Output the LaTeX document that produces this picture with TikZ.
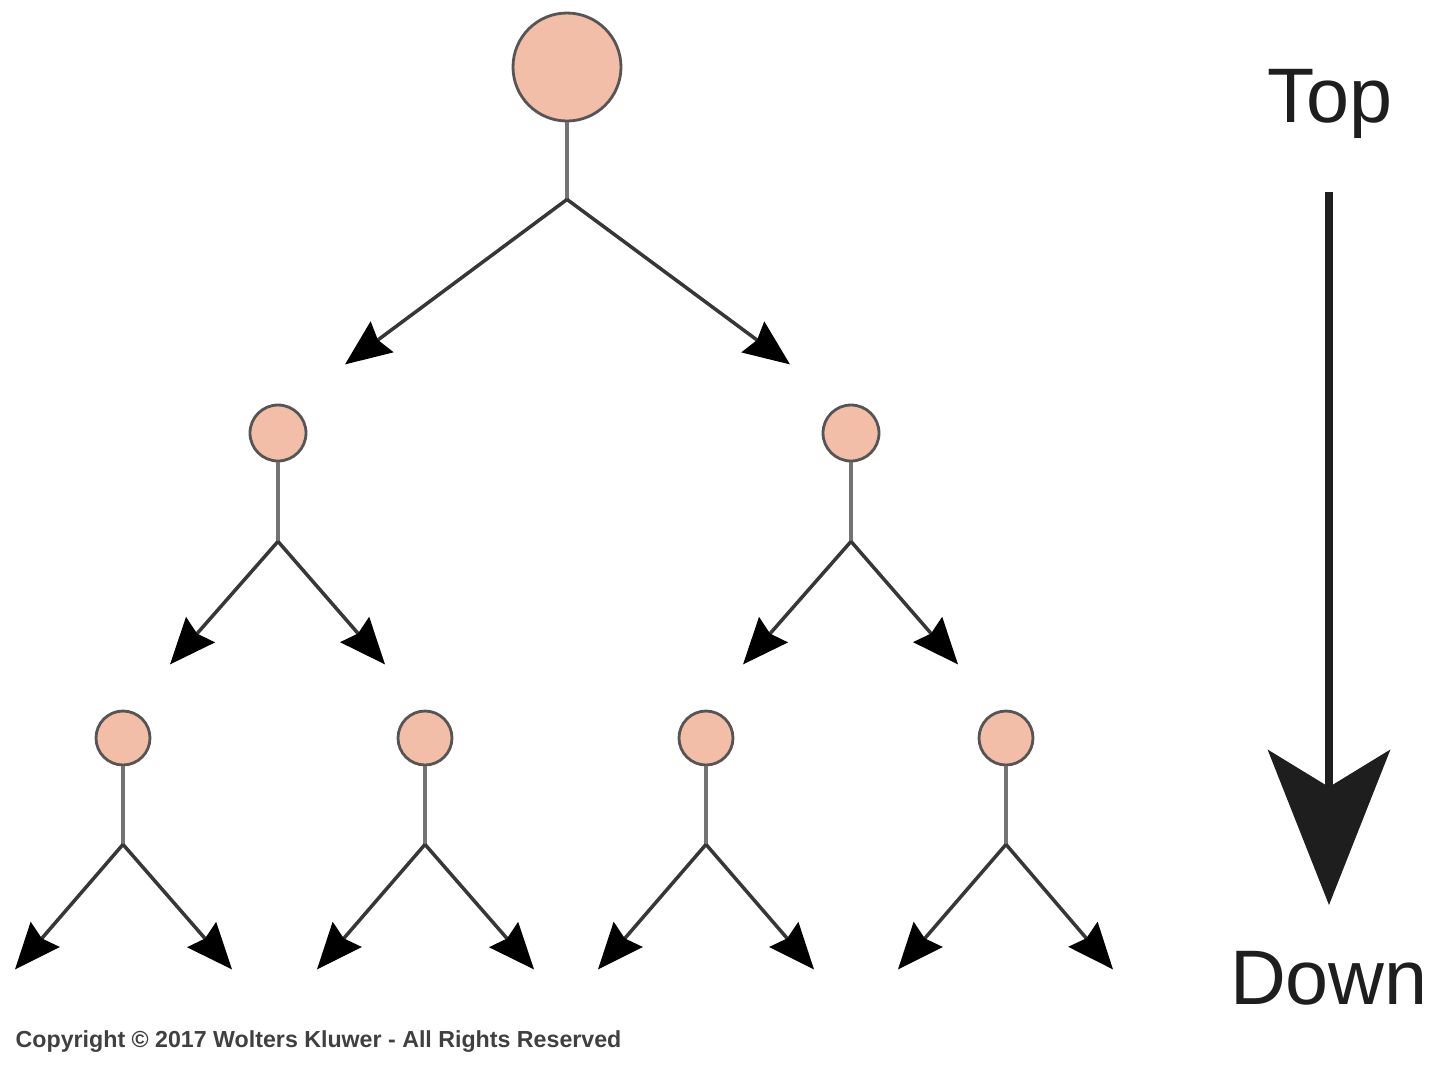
\documentclass[tikz,border=0pt]{standalone}
\usepackage{fontspec}
\setmainfont{Liberation Sans}
\usetikzlibrary{
  arrows.meta,
  positioning
}
\definecolor{nodesalmon}{RGB}{242,190,168}
\definecolor{nodeedge}{RGB}{85,85,85}
\definecolor{stemgray}{RGB}{115,115,115}
\definecolor{branchgray}{RGB}{55,55,55}
\definecolor{labelblack}{RGB}{30,30,30}

\begin{document}
\begin{tikzpicture}[
  rootcirc/.style={circle, draw=nodeedge, fill=nodesalmon, line width=0.8pt,
        minimum size=1.08cm, inner sep=0pt},
  midcirc/.style={rootcirc, minimum size=0.56cm},
  leafcirc/.style={rootcirc, minimum size=0.54cm},
  stem/.style={draw=stemgray, line width=0.9pt},
  branch/.style={draw=branchgray, line width=1pt,
        -{Stealth[length=0.46cm, width=0.38cm, inset=0.05cm, color=black]}},
  bigarrow/.style={draw=labelblack, line width=0.08cm,
        -{Stealth[length=1.55cm, width=1.22cm, inset=0.37cm]}},
  sidelabel/.style={font=\fontsize{22}{26}\selectfont, text=labelblack,
        anchor=base, inner sep=0pt}
]
  \useasboundingbox (0,0) rectangle (14.4,-10.67);
  % Root
  \node[rootcirc] (root) at (5.67,-0.67) {};
  \coordinate[below=0.77cm of root] (rootfork);
  \coordinate[below left=1.65cm and 2.22cm of rootfork] (rootL);
  \coordinate[below right=1.65cm and 2.23cm of rootfork] (rootR);
  \draw[stem] (root) -- (rootfork);
  \draw[branch] (rootfork) -- (rootL);
  \draw[branch] (rootfork) -- (rootR);
  % Second level
  \node[midcirc] (midL) at (2.78,-4.33) {};
  \node[midcirc] (midR) at (8.51,-4.33) {};
  \coordinate[below=0.79cm of midL] (midLfork);
  \coordinate[below=0.79cm of midR] (midRfork);
  \coordinate[below left=1.23cm and 1.08cm of midLfork] (midLL);
  \coordinate[below right=1.23cm and 1.07cm of midLfork] (midLR);
  \coordinate[below left=1.23cm and 1.08cm of midRfork] (midRL);
  \coordinate[below right=1.23cm and 1.07cm of midRfork] (midRR);
  \draw[stem] (midL) -- (midLfork);
  \draw[stem] (midR) -- (midRfork);
  \draw[branch] (midLfork) -- (midLL);
  \draw[branch] (midLfork) -- (midLR);
  \draw[branch] (midRfork) -- (midRL);
  \draw[branch] (midRfork) -- (midRR);
  % Third level
  \node[leafcirc] (leafA) at (1.23,-7.38) {};
  \node[leafcirc] (leafB) at (4.25,-7.38) {};
  \node[leafcirc] (leafC) at (7.06,-7.38) {};
  \node[leafcirc] (leafD) at (10.06,-7.38) {};
  \coordinate[below=0.78cm of leafA] (leafAfork);
  \coordinate[below=0.78cm of leafB] (leafBfork);
  \coordinate[below=0.78cm of leafC] (leafCfork);
  \coordinate[below=0.78cm of leafD] (leafDfork);
  \coordinate[below left=1.25cm and 1.08cm of leafAfork] (leafAL);
  \coordinate[below right=1.25cm and 1.09cm of leafAfork] (leafAR);
  \coordinate[below left=1.25cm and 1.08cm of leafBfork] (leafBL);
  \coordinate[below right=1.25cm and 1.09cm of leafBfork] (leafBR);
  \coordinate[below left=1.25cm and 1.08cm of leafCfork] (leafCL);
  \coordinate[below right=1.25cm and 1.08cm of leafCfork] (leafCR);
  \coordinate[below left=1.25cm and 1.08cm of leafDfork] (leafDL);
  \coordinate[below right=1.25cm and 1.07cm of leafDfork] (leafDR);
  \draw[stem] (leafA) -- (leafAfork);
  \draw[stem] (leafB) -- (leafBfork);
  \draw[stem] (leafC) -- (leafCfork);
  \draw[stem] (leafD) -- (leafDfork);
  \draw[branch] (leafAfork) -- (leafAL);
  \draw[branch] (leafAfork) -- (leafAR);
  \draw[branch] (leafBfork) -- (leafBL);
  \draw[branch] (leafBfork) -- (leafBR);
  \draw[branch] (leafCfork) -- (leafCL);
  \draw[branch] (leafCfork) -- (leafCR);
  \draw[branch] (leafDfork) -- (leafDL);
  \draw[branch] (leafDfork) -- (leafDR);
  % Direction arrow
  \node[sidelabel] (top) at (13.30,-1.22) {Top};
  \node[sidelabel] (down) at (13.29,-10.04) {Down};
  \coordinate (arrowtail) at (13.29,-1.92);
  \coordinate[below=7.13cm of arrowtail] (arrowtip);
  \draw[bigarrow] (arrowtail) -- (arrowtip);
  % Copyright line
  \node[anchor=base west, inner sep=0pt, font=\fontsize{6.6}{8}\selectfont\bfseries,
        text=black!75] (copyright) at (0.15,-10.47)
        {Copyright © 2017 Wolters Kluwer - All Rights Reserved};
\end{tikzpicture}
\end{document}
